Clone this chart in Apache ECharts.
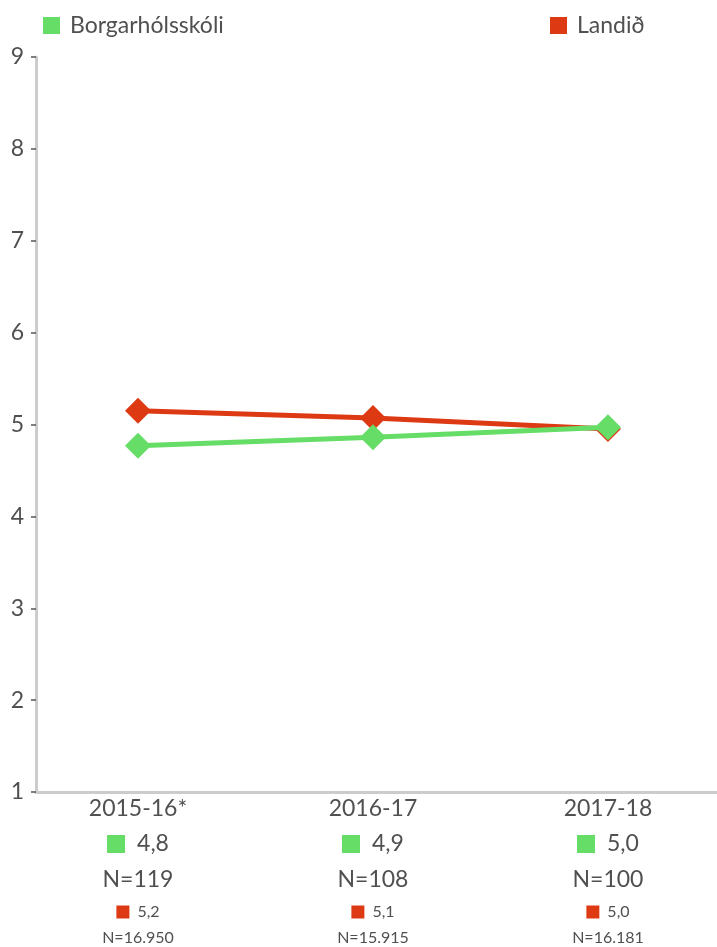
<!DOCTYPE html>
<html><head><meta charset="utf-8">
<script src="https://cdn.jsdelivr.net/npm/echarts@6/dist/echarts.min.js"></script>
<style>html,body{margin:0;padding:0;background:#fff}#c{width:717px;height:947px}</style>
</head><body><div id="c"></div>
<script>
const categories = ['2015-16*', '2016-17', '2017-18'];
const schoolName = 'Borgarhólsskóli';
const nationName = 'Landið';
const schoolValues = [4.77, 4.86, 4.97];
const nationValues = [5.15, 5.07, 4.95];
const schoolLabels = ['4,8', '4,9', '5,0'];
const schoolN = ['N=119', 'N=108', 'N=100'];
const nationLabels = ['5,2', '5,1', '5,0'];
const nationN = ['N=16.950', 'N=15.915', 'N=16.181'];
const yTicks = [1, 2, 3, 4, 5, 6, 7, 8, 9];

const GREEN = '#66dd66', RED = '#dd3a14', TXT = '#505050';
const FONT = 'Lato';
const W = 'normal';

const chart = echarts.init(document.getElementById('c'));
chart.setOption({
  animation: false,
  textStyle: { fontFamily: FONT, fontWeight: W },
  legend: [
    { data: [schoolName], left: 43, top: 14, padding: 0, icon: 'rect', itemWidth: 17, itemHeight: 17,
      textStyle: { fontSize: 23, color: TXT, fontFamily: FONT, fontWeight: W, padding: [0,0,0,5] } },
    { data: [nationName], left: 550, top: 14, padding: 0, icon: 'rect', itemWidth: 17, itemHeight: 17,
      textStyle: { fontSize: 23, color: TXT, fontFamily: FONT, fontWeight: W, padding: [0,0,0,5] } }
  ],
  grid: { left: 36, right: 0, top: 57, bottom: 155, containLabel: false },
  xAxis: {
    type: 'value', min: -0.434, max: 2.464,
    splitLine: { show: false },
    axisLine: { show: true, onZero: false, lineStyle: { color: '#cccccc', width: 3 } },
    axisTick: { show: false },
    axisLabel: {
      customValues: [0, 1, 2],
      margin: 2,
      formatter: function (v) {
        const i = Math.round(v);
        return '{y|' + categories[i] + '}\n{sq|}{v|' + schoolLabels[i] + '}\n{n|' + schoolN[i] +
               '}\n{sq2|}{v2|' + nationLabels[i] + '}\n{n2|' + nationN[i] + '}';
      },
      rich: {
        y: { fontSize: 23, color: TXT, lineHeight: 30, fontFamily: FONT, fontWeight: W },
        sq: { width: 18, height: 18, backgroundColor: GREEN, lineHeight: 40 },
        v: { fontSize: 23, color: TXT, lineHeight: 40, padding: [0,0,0,12], fontFamily: FONT, fontWeight: W },
        n: { fontSize: 23, color: TXT, lineHeight: 32, fontFamily: FONT, fontWeight: W },
        sq2: { width: 13, height: 13, backgroundColor: RED, lineHeight: 32 },
        v2: { fontSize: 16, color: TXT, lineHeight: 32, padding: [0,0,0,8], fontFamily: FONT, fontWeight: W },
        n2: { fontSize: 16, color: TXT, lineHeight: 20, fontFamily: FONT, fontWeight: W }
      }
    }
  },
  yAxis: {
    type: 'value', min: 1, max: 9, interval: 1,
    splitLine: { show: false },
    axisLine: { show: true, onZero: false, lineStyle: { color: '#cccccc', width: 3 } },
    axisTick: { show: true, length: 5, lineStyle: { color: '#555', width: 1.5 } },
    axisLabel: { fontSize: 23, color: TXT, margin: 12, fontFamily: FONT, fontWeight: W,
      formatter: v => yTicks.includes(v) ? String(v) : '' }
  },
  series: [
    { name: nationName, type: 'line', data: nationValues.map((v, i) => [i, v]),
      symbol: 'diamond', symbolSize: 26, itemStyle: { color: RED },
      lineStyle: { color: RED, width: 5 }, z: 2 },
    { name: schoolName, type: 'line', data: schoolValues.map((v, i) => [i, v]),
      symbol: 'diamond', symbolSize: 26, itemStyle: { color: GREEN },
      lineStyle: { color: GREEN, width: 5 }, z: 3 }
  ]
});
</script></body></html>
